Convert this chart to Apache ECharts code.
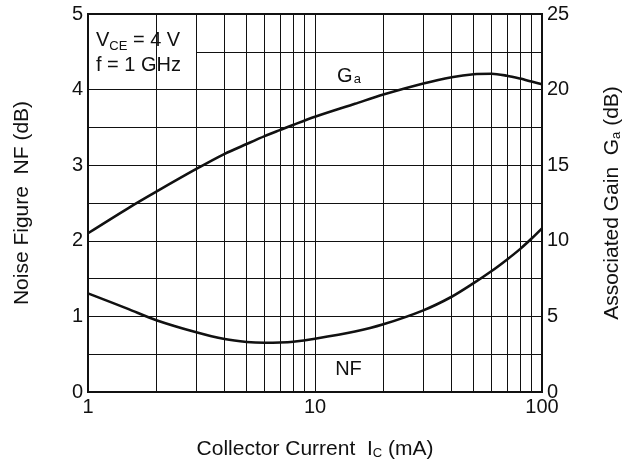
<!DOCTYPE html>
<html><head><meta charset="utf-8">
<script src="https://cdn.jsdelivr.net/npm/echarts@6/dist/echarts.min.js"></script>
<style>html,body{margin:0;padding:0;background:#fff}#c{width:636px;height:468px}</style>
</head><body><div id="c"></div>
<script>
// Collector current Ic (mA)
const current = [1, 1.5, 2, 3, 4, 5, 6, 7, 8, 10, 15, 20, 30, 40, 50, 60, 70, 80, 90, 100];
// Associated gain Ga (dB), right axis
const gainGa = [10.5, 12.15, 13.25, 14.75, 15.75, 16.4, 16.92, 17.32, 17.66, 18.2, 19.06, 19.67, 20.4, 20.82, 21.02, 21.05, 20.92, 20.73, 20.53, 20.35];
// Noise figure NF (dB), left axis
const noiseNF = [1.305, 1.10, 0.95, 0.79, 0.70, 0.662, 0.652, 0.655, 0.665, 0.705, 0.80, 0.895, 1.08, 1.26, 1.44, 1.60, 1.75, 1.89, 2.03, 2.165];
// log grid minor lines
const minorX = [2, 4, 5, 6, 7, 8, 9, 20, 30, 40, 50, 60, 70, 80, 90];
const minorXTop = [3];
const nfRange = [0, 5];
const gaRange = [0, 25];

const FONT = 'Liberation Sans, Arial, Helvetica, sans-serif';
const INK = '#111';
const chart = echarts.init(document.getElementById('c'), null, {renderer: 'canvas'});
const lineStyleGrid = {color: INK, width: 1, type: 'solid'};

const option = {
  animation: false,
  backgroundColor: '#fff',
  grid: {left: 88, top: 14, right: 94, bottom: 76, show: true, z: 10,
         backgroundColor: 'transparent', borderColor: INK, borderWidth: 2},
  xAxis: {
    type: 'log', logBase: 10, min: 1, max: 100,
    axisLine: {show: false}, axisTick: {show: false},
    splitLine: {show: true, lineStyle: lineStyleGrid},
    axisLabel: {color: INK, fontSize: 20, fontFamily: FONT, margin: 5},
    name: '{t|Collector Current  I}{s|C}{t| (mA)}',
    nameLocation: 'middle', nameGap: 47,
    nameTextStyle: {rich: {
      t: {fontSize: 21, fontFamily: FONT, color: INK},
      s: {fontSize: 13, fontFamily: FONT, color: INK, verticalAlign: 'bottom', padding: [7, 0, 0, 0]}
    }}
  },
  yAxis: [{
    type: 'value', min: nfRange[0], max: nfRange[1], interval: 1, position: 'left',
    axisLine: {show: false}, axisTick: {show: false},
    splitLine: {show: true, lineStyle: lineStyleGrid},
    minorTick: {show: false, splitNumber: 2},
    minorSplitLine: {show: true, lineStyle: lineStyleGrid},
    axisLabel: {color: INK, fontSize: 20, fontFamily: FONT, margin: 5},
    name: 'Noise Figure  NF (dB)', nameLocation: 'middle', nameGap: 55, nameRotate: 90,
    nameTextStyle: {fontSize: 21, fontFamily: FONT, color: INK}
  }, {
    type: 'value', min: gaRange[0], max: gaRange[1], interval: 5, position: 'right',
    axisLine: {show: false}, axisTick: {show: false}, splitLine: {show: false},
    axisLabel: {color: INK, fontSize: 20, fontFamily: FONT, margin: 5},
    name: '{t|Associated Gain  G}{s|a}{t| (dB)}', nameLocation: 'middle', nameGap: 60, nameRotate: 90,
    nameTextStyle: {rich: {
      t: {fontSize: 21, fontFamily: FONT, color: INK},
      s: {fontSize: 13, fontFamily: FONT, color: INK, verticalAlign: 'bottom', padding: [7, 0, 0, 0]}
    }}
  }],
  series: [{
    name: 'gridLow', type: 'line', data: [], z: 1, silent: true,
    markLine: {silent: true, symbol: 'none', label: {show: false}, lineStyle: lineStyleGrid,
      data: minorX.map(v => ({xAxis: v}))}
  }, {
    name: 'box', type: 'line', data: [], z: 2, silent: true,
    markArea: {silent: true, itemStyle: {color: '#fff'},
      data: [[{coord: [1, 4]}, {coord: [3, nfRange[1]]}]]}
  }, {
    name: 'gridTop', type: 'line', data: [], z: 3, silent: true,
    markLine: {silent: true, symbol: 'none', label: {show: false}, lineStyle: lineStyleGrid,
      data: minorXTop.map(v => ({xAxis: v})).concat([{yAxis: 4}])}
  }, {
    name: 'Ga', type: 'line', yAxisIndex: 1, smooth: 0.3, showSymbol: false, z: 5,
    lineStyle: {color: INK, width: 2.6},
    data: current.map((x, i) => [x, gainGa[i]])
  }, {
    name: 'NF', type: 'line', yAxisIndex: 0, smooth: 0.3, showSymbol: false, z: 5,
    lineStyle: {color: INK, width: 2.6},
    data: current.map((x, i) => [x, noiseNF[i]])
  }],
  graphic: [{
    type: 'text', x: 96, y: 53, z: 20,
    style: {
      text: '{a|V}{s|CE}{a| = 4 V}\n{a|f = 1 GHz}',
      align: 'left', verticalAlign: 'middle',
      rich: {
        a: {fontSize: 20, fontFamily: FONT, fill: INK, lineHeight: 25},
        s: {fontSize: 13, fontFamily: FONT, fill: INK, lineHeight: 25, verticalAlign: 'bottom', padding: [6, 0, 0, 0]}
      }
    }
  }, {
    type: 'text', x: 349, y: 76, z: 20,
    style: {
      text: '{a|G}{s|a}',
      align: 'center', verticalAlign: 'middle',
      rich: {
        a: {fontSize: 20, fontFamily: FONT, fill: INK},
        s: {fontSize: 13, fontFamily: FONT, fill: INK, verticalAlign: 'bottom', padding: [6, 0, 0, 1]}
      }
    }
  }, {
    type: 'text', x: 348.5, y: 369, z: 20,
    style: {text: 'NF', fontSize: 20, fontFamily: FONT, fill: INK, align: 'center', verticalAlign: 'middle'}
  }]
};
chart.setOption(option);
</script>
</body></html>
